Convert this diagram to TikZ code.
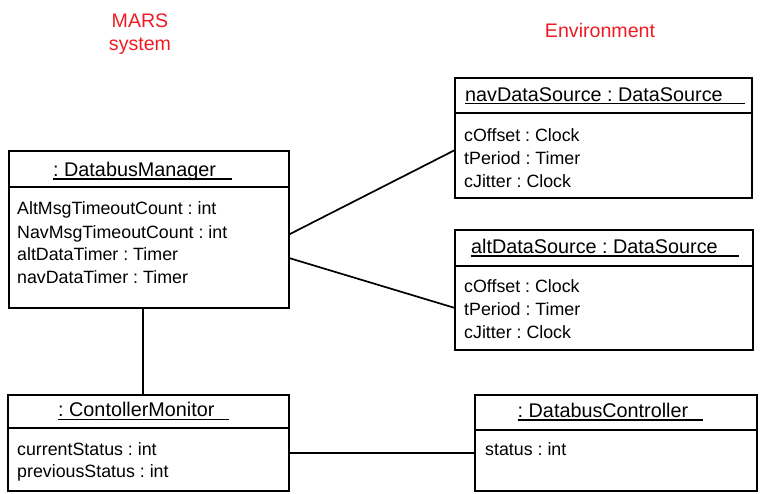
\documentclass[tikz,border=0pt]{standalone}
\usepackage{fontspec}
\setmainfont{Liberation Sans}
\usetikzlibrary{calc}
\definecolor{marsred}{RGB}{237,28,36}
\frenchspacing
\begin{document}
\begin{tikzpicture}[x=1pt,y=-1pt,
  box/.style={draw, line width=1.7pt, inner sep=0pt, outer sep=0pt, anchor=north west},
  ttl/.style={anchor=base west, inner sep=0pt, font=\fontsize{19.8}{22}\selectfont},
  attr/.style={anchor=base west, inner sep=0pt, font=\fontsize{17.8}{20}\selectfont},
  lbl/.style={anchor=base, inner sep=0pt, text=marsred, font=\fontsize{19.6}{22}\selectfont},
  ul/.style={line width=1.4pt},
  sep/.style={line width=1.7pt},
  conn/.style={line width=1.7pt}]
\useasboundingbox (0,0) rectangle (760,493);

% red labels
\node[lbl] (mars) at (140,27) {MARS};
\node[lbl] (sys) at (140,50) {system};
\node[lbl] (env) at (600,37) {Environment};

% DatabusManager
\node[box, minimum width=280pt, minimum height=157pt] (dm) at (9,151) {};
\draw[sep] ($(dm.north west)+(0,36)$) -- ($(dm.north east)+(0,36)$);
\node[ttl] (dmt) at (53,176.5) {: DatabusManager};
\draw[ul] ([yshift=-2.5pt]dmt.base west) -- ++(179,0);
\node[attr] (dma1) at (17,214) {AltMsgTimeoutCount : int};
\node[attr] (dma2) at (17,238) {NavMsgTimeoutCount : int};
\node[attr] (dma3) at (17,260) {altDataTimer : Timer};
\node[attr] (dma4) at (17,283) {navDataTimer : Timer};

% navDataSource
\node[box, minimum width=297pt, minimum height=120pt] (nav) at (455,78) {};
\draw[sep] ($(nav.north west)+(0,35)$) -- ($(nav.north east)+(0,35)$);
\node[ttl] (navt) at (465,101) {navDataSource : DataSource};
\draw[ul] ([yshift=-2.5pt]navt.base west) -- ++(280,0);
\node[attr] (nava1) at (464,141) {cOffset : Clock};
\node[attr] (nava2) at (464,164.3) {tPeriod : Timer};
\node[attr] (nava3) at (464,187.7) {cJitter : Clock};

% altDataSource
\node[box, minimum width=298pt, minimum height=120pt] (alt) at (455,230) {};
\draw[sep] ($(alt.north west)+(0,36)$) -- ($(alt.north east)+(0,36)$);
\node[ttl] (altt) at (471,253.3) {altDataSource : DataSource};
\draw[ul] ([yshift=-2.5pt]altt.base west) -- ++(268,0);
\node[attr] (alta1) at (464,292.7) {cOffset : Clock};
\node[attr] (alta2) at (464,315) {tPeriod : Timer};
\node[attr] (alta3) at (464,338.3) {cJitter : Clock};

% ContollerMonitor
\node[box, minimum width=281pt, minimum height=96pt] (cm) at (8,395) {};
\draw[sep] ($(cm.north west)+(0,33)$) -- ($(cm.north east)+(0,33)$);
\node[ttl] (cmt) at (58,416.7) {: ContollerMonitor};
\draw[ul] ([yshift=-2.5pt]cmt.base west) -- ++(171,0);
\node[attr] (cma1) at (17,455.7) {currentStatus : int};
\node[attr] (cma2) at (17,477.7) {previousStatus : int};

% DatabusController
\node[box, minimum width=282pt, minimum height=96pt] (dc) at (475,395) {};
\draw[sep] ($(dc.north west)+(0,35)$) -- ($(dc.north east)+(0,35)$);
\node[ttl] (dct) at (517.5,417.3) {: DatabusController};
\draw[ul] ([yshift=-2.5pt]dct.base west) -- ++(185.5,0);
\node[attr] (dca1) at (485,455) {status : int};

% connectors
\draw[conn] ([yshift=-5pt]dm.east) -- ([yshift=-12pt]nav.west);
\draw[conn] ([yshift=-28.5pt]dm.east) -- ([yshift=-18pt]alt.west);
\draw[conn] ([xshift=-6pt]dm.south) -- ([xshift=-5.5pt]cm.north);
\draw[conn] ([yshift=-10pt]cm.east) -- ([yshift=-10pt]dc.west);
\end{tikzpicture}
\end{document}
